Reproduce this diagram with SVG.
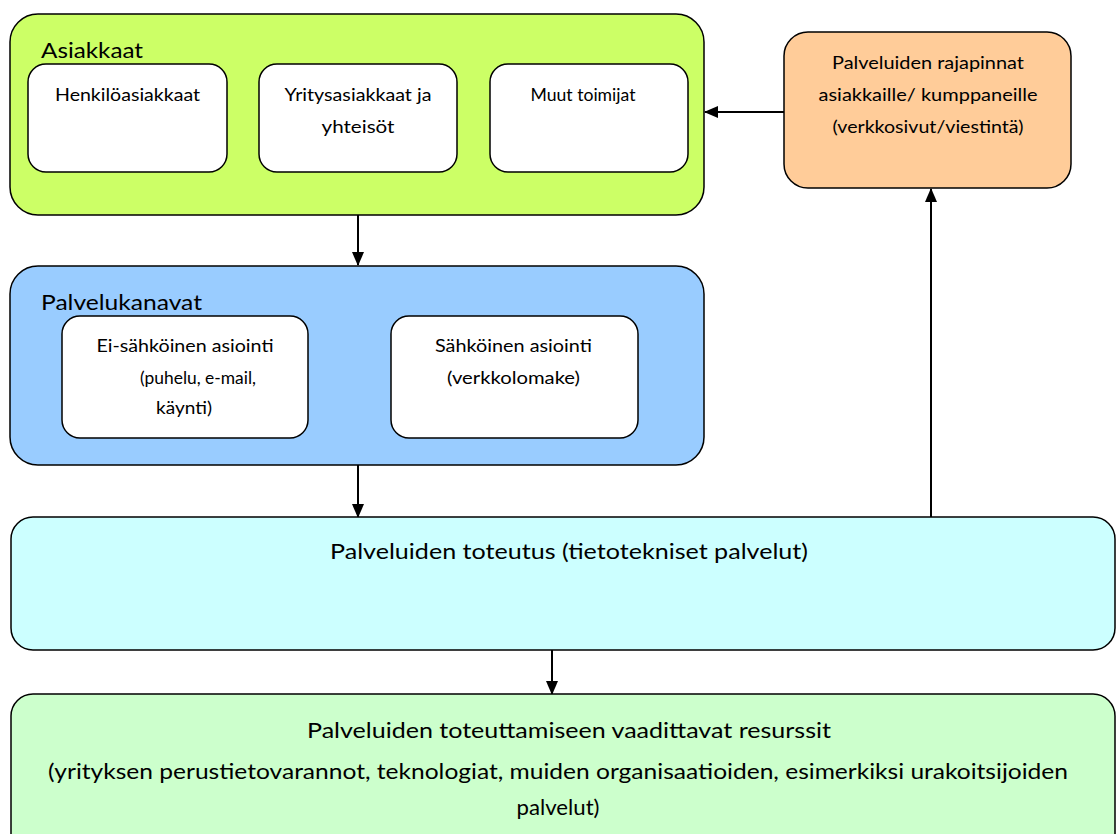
<svg xmlns="http://www.w3.org/2000/svg" width="1116" height="834" viewBox="0 0 1116 834">
<style>
.box{stroke:#000;stroke-width:1.5}
.in{fill:#fff;stroke:#000;stroke-width:1.5}
text{font-family:Lato,"Open Sans","Liberation Sans",sans-serif;fill:#000}
.s{font-size:16.5px;text-anchor:middle}
.h{font-size:21px}
.b{font-size:21px;text-anchor:middle}
.c{stroke:#000;stroke-width:2;fill:none;marker-end:url(#ah)}
</style>
<defs>
<marker id="ah" markerWidth="14" markerHeight="12" refX="13" refY="6" orient="auto" markerUnits="userSpaceOnUse">
<path d="M0,0 L14,6 L0,12 Z" fill="#000"/>
</marker>
</defs>
<rect width="1116" height="834" fill="#fff"/>
<g id="connectors">
<line class="c" x1="358" y1="215" x2="358" y2="265"/>
<line class="c" x1="358" y1="465" x2="358" y2="517"/>
<line class="c" x1="552" y1="650" x2="552" y2="694"/>
<line class="c" x1="931" y1="517" x2="931" y2="189"/>
<line class="c" x1="784" y1="112" x2="705" y2="112"/>
</g>
<g id="asiakkaat">
<rect class="box" x="10" y="14" width="694" height="201" rx="28" fill="#ccff66"/>
<text class="h" x="41" y="58" textLength="102" lengthAdjust="spacingAndGlyphs">Asiakkaat</text>
</g>
<g id="henkiloasiakkaat">
<rect class="in" x="28" y="64" width="199" height="108" rx="18"/>
<text class="s" x="127.5" y="101" textLength="145" lengthAdjust="spacingAndGlyphs">Henkilöasiakkaat</text>
</g>
<g id="yritysasiakkaat">
<rect class="in" x="259" y="64" width="198" height="108" rx="18"/>
<text class="s" x="358" y="101" textLength="147" lengthAdjust="spacingAndGlyphs">Yritysasiakkaat ja</text>
<text class="s" x="358" y="133" textLength="73" lengthAdjust="spacingAndGlyphs">yhteisöt</text>
</g>
<g id="muut">
<rect class="in" x="490" y="64" width="198" height="108" rx="18"/>
<text class="s" x="583" y="101" textLength="105" lengthAdjust="spacingAndGlyphs">Muut toimijat</text>
</g>
<g id="rajapinnat">
<rect class="box" x="784" y="32" width="287" height="156" rx="24" fill="#ffcc99"/>
<text class="s" x="928" y="69" textLength="192" lengthAdjust="spacingAndGlyphs">Palveluiden rajapinnat</text>
<text class="s" x="928" y="101" textLength="219" lengthAdjust="spacingAndGlyphs">asiakkaille/ kumppaneille</text>
<text class="s" x="928" y="133" textLength="191" lengthAdjust="spacingAndGlyphs">(verkkosivut/viestintä)</text>
</g>
<g id="palvelukanavat">
<rect class="box" x="10" y="266" width="694" height="199" rx="28" fill="#99ccff"/>
<text class="h" x="41" y="310" textLength="161" lengthAdjust="spacingAndGlyphs">Palvelukanavat</text>
</g>
<g id="ei-sahkoinen">
<rect class="in" x="62" y="316" width="246" height="122" rx="18"/>
<text class="s" x="185" y="352" textLength="177" lengthAdjust="spacingAndGlyphs">Ei-sähköinen asiointi</text>
<text class="s" x="198" y="384" textLength="116" lengthAdjust="spacingAndGlyphs">(puhelu, e-mail,</text>
<text class="s" x="184" y="414" textLength="56" lengthAdjust="spacingAndGlyphs">käynti)</text>
</g>
<g id="sahkoinen">
<rect class="in" x="391" y="316" width="247" height="122" rx="18"/>
<text class="s" x="513.5" y="352" textLength="157" lengthAdjust="spacingAndGlyphs">Sähköinen asiointi</text>
<text class="s" x="513.5" y="384" textLength="133" lengthAdjust="spacingAndGlyphs">(verkkolomake)</text>
</g>
<g id="toteutus">
<rect class="box" x="11" y="517" width="1104" height="133" rx="22" fill="#ccffff"/>
<text class="b" x="569" y="559" textLength="478" lengthAdjust="spacingAndGlyphs">Palveluiden toteutus (tietotekniset palvelut)</text>
</g>
<g id="resurssit">
<rect class="box" x="11" y="694" width="1104" height="170" rx="22" fill="#ccffcc"/>
<text class="b" x="569" y="738" textLength="524" lengthAdjust="spacingAndGlyphs">Palveluiden toteuttamiseen vaadittavat resurssit</text>
<text class="b" x="558" y="779" textLength="1020" lengthAdjust="spacingAndGlyphs">(yrityksen perustietovarannot, teknologiat, muiden organisaatioiden, esimerkiksi urakoitsijoiden</text>
<text class="b" x="558" y="815" textLength="83" lengthAdjust="spacingAndGlyphs">palvelut)</text>
</g>
</svg>
